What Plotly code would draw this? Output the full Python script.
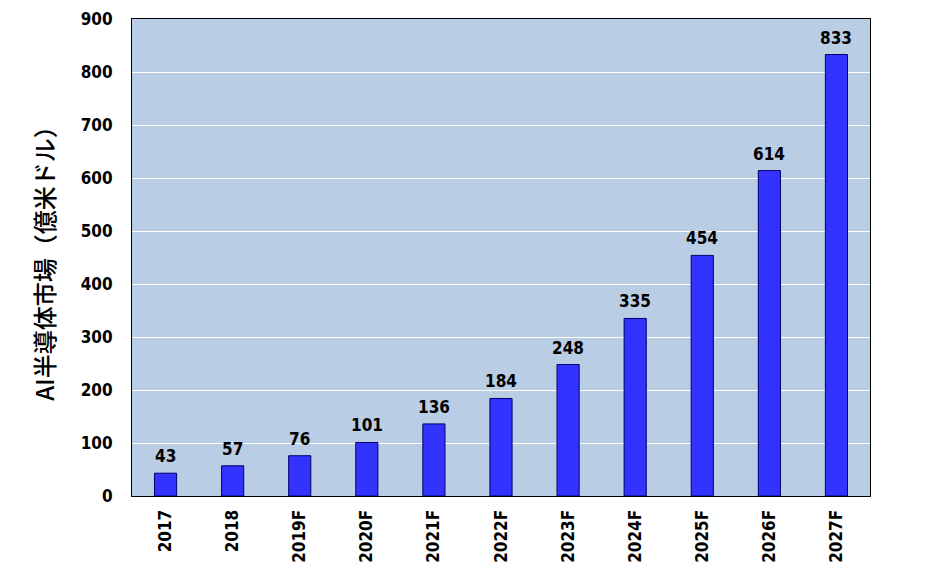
import plotly.graph_objects as go

categories = ["2017", "2018", "2019F", "2020F", "2021F", "2022F", "2023F", "2024F", "2025F", "2026F", "2027F"]
values = [43, 57, 76, 101, 136, 184, 248, 335, 454, 614, 833]
y_ticks = [0, 100, 200, 300, 400, 500, 600, 700, 800, 900]
y_title = "AI半導体市場（億米ドル）"

FONT = "Liberation Sans Narrow, Arial Narrow, DejaVu Sans Condensed, Liberation Sans, sans-serif"

idx = list(range(len(categories)))

fig = go.Figure()
fig.add_trace(go.Bar(
    x=idx, y=values,
    marker=dict(color="#3333FF", line=dict(color="#000066", width=1)),
    width=0.33,
))

for i, v in zip(idx, values):
    fig.add_annotation(x=i, y=v, text=f"<b>{v}</b>", showarrow=False,
                       yanchor="bottom", yshift=5,
                       font=dict(family=FONT, size=17, color="#000000"))

fig.update_layout(
    width=938, height=572,
    margin=dict(l=132, r=68, t=19, b=76),
    paper_bgcolor="white", plot_bgcolor="#B9CDE5",
    showlegend=False,
    font=dict(family=FONT, size=17, color="#000000"),
)
fig.update_xaxes(
    type="linear",
    range=[-0.5, len(categories) - 0.5],
    tickangle=-90,
    tickvals=idx,
    ticktext=[f"<b>{c}</b>" for c in categories],
    tickfont=dict(family=FONT, size=17),
    ticklabelstandoff=6,
    automargin=False,
    showline=True, linecolor="black", linewidth=1, mirror=True,
    ticks="", showgrid=False, zeroline=False,
)
fig.update_yaxes(
    range=[0, 900],
    tickvals=y_ticks,
    ticktext=[f"<b>{t}</b>" for t in y_ticks],
    tickfont=dict(family=FONT, size=17),
    ticklabelstandoff=15,
    automargin=False,
    showgrid=True, gridcolor="white", gridwidth=1,
    showline=True, linecolor="black", linewidth=1, mirror=True,
    ticks="", ticklen=0,
    title=dict(text=y_title, font=dict(family="Noto Sans CJK JP", size=24, weight=500, color="#000000"), standoff=19),
    zeroline=False,
)

fig.write_html("out.html")
